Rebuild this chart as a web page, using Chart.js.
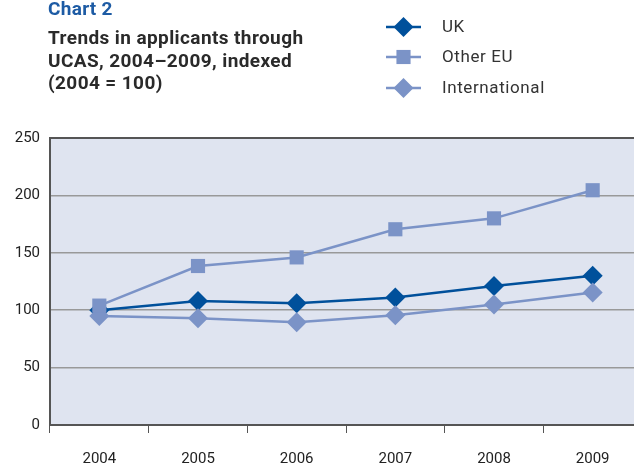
<!DOCTYPE html>
<html>
<head>
<meta charset="utf-8">
<script src="https://cdn.jsdelivr.net/npm/chart.js@4.4.0/dist/chart.umd.min.js"></script>
<style>
  html, body { margin: 0; padding: 0; background: #fff; overflow: hidden; }
  #wrap { position: relative; width: 634px; height: 466px; overflow: hidden; }
  #chart { position: absolute; left: 0; top: 0; }
  .kicker { position: absolute; left: 48px; top: -3px; font: 700 19px Roboto, sans-serif; color: #1d5ba4; letter-spacing: 0.3px; }
  .heading { position: absolute; left: 48px; top: 27px; font: 700 19px/22.5px Roboto, sans-serif; color: #2a2a2a; letter-spacing: 0.4px; }
</style>
</head>
<body>
<div id="wrap">
  <canvas id="chart" width="660" height="466"></canvas>
  <div class="kicker">Chart 2</div>
  <div class="heading">Trends in applicants through<br>UCAS, 2004–2009, indexed<br>(2004 = 100)</div>
</div>

<script>
// ---- data ----
const years = ["2004", "2005", "2006", "2007", "2008", "2009"];
const ukValues = [100, 108, 106, 111, 121, 130];
const otherEuValues = [104, 138.5, 146, 170.5, 180, 204.5];
const internationalValues = [95, 93, 89.5, 95.5, 105, 115.5];
const yTicks = [0, 50, 100, 150, 200, 250];

const darkBlue = "#00509b";
const lightBlue = "#7b93c7";

// plot background, plus the dark line along the top of the plot
const plotFrame = {
  id: "plotFrame",
  beforeDraw(chart) {
    const { ctx, chartArea: a } = chart;
    ctx.save();
    ctx.fillStyle = "#dfe4f0";
    ctx.fillRect(a.left, a.top, a.right - a.left, a.bottom - a.top);
    ctx.restore();
  },
  beforeDatasetsDraw(chart) {
    const { ctx, chartArea: a } = chart;
    ctx.save();
    ctx.strokeStyle = "#555";
    ctx.lineWidth = 2;
    ctx.beginPath();
    ctx.moveTo(a.left, a.top);
    ctx.lineTo(a.right, a.top);
    ctx.stroke();
    ctx.restore();
  }
};

// legend drawn top right with line + marker
const sideLegend = {
  id: "sideLegend",
  afterDraw(chart) {
    const ctx = chart.ctx;
    const rows = [27, 57, 88];
    ctx.save();
    chart.data.datasets.forEach((ds, i) => {
      const y = rows[i];
      ctx.strokeStyle = ds.borderColor;
      ctx.lineWidth = ds.borderWidth;
      ctx.beginPath();
      ctx.moveTo(386, y);
      ctx.lineTo(421, y);
      ctx.stroke();
      ctx.fillStyle = ds.pointBackgroundColor;
      ctx.strokeStyle = ds.pointBackgroundColor;
      ctx.lineWidth = 0;
      Chart.helpers.drawPoint(ctx, { pointStyle: ds.pointStyle, radius: ds.pointRadius, rotation: 0, borderWidth: 0 }, 403.5, y);
      ctx.fillStyle = "#333";
      ctx.font = "17px Roboto, sans-serif";
      ctx.letterSpacing = "0.6px";
      ctx.textBaseline = "middle";
      ctx.fillText(ds.label, 442, y + 1);
    });
    ctx.restore();
  }
};

const ctx = document.getElementById("chart");

new Chart(ctx, {
  type: "line",
  data: {
    labels: years,
    datasets: [
      {
        label: "UK",
        data: ukValues,
        borderColor: darkBlue,
        backgroundColor: darkBlue,
        pointBackgroundColor: darkBlue,
        borderWidth: 2.5,
        pointStyle: "rectRot",
        pointRadius: 10,
        pointBorderWidth: 0,
        order: 2
      },
      {
        label: "Other EU",
        data: otherEuValues,
        borderColor: lightBlue,
        backgroundColor: lightBlue,
        pointBackgroundColor: lightBlue,
        borderWidth: 2.5,
        pointStyle: "rect",
        pointRadius: 10,
        pointBorderWidth: 0,
        order: 0
      },
      {
        label: "International",
        data: internationalValues,
        borderColor: lightBlue,
        backgroundColor: lightBlue,
        pointBackgroundColor: lightBlue,
        borderWidth: 2.5,
        pointStyle: "rectRot",
        pointRadius: 10,
        pointBorderWidth: 0,
        order: 1
      }
    ]
  },
  options: {
    responsive: false,
    animation: false,
    layout: { padding: { top: 138, right: 18, left: 0, bottom: 0 } },
    plugins: {
      legend: { display: false },
      title: { display: false },
      tooltip: { enabled: false }
    },
    scales: {
      x: {
        offset: true,
        grid: {
          offset: true,
          drawOnChartArea: false,
          drawTicks: true,
          tickLength: 8,
          color: "#555"
        },
        border: { color: "#555", width: 2 },
        ticks: { color: "#222", font: { family: "Roboto", size: 15 }, padding: 17 },
        afterFit(scale) { scale.height = 41; }
      },
      y: {
        min: 0,
        max: 250,
        afterBuildTicks(scale) { scale.ticks = yTicks.map(v => ({ value: v })); },
        grid: { color: "#999", lineWidth: 1.5, drawTicks: false },
        border: { color: "#555", width: 2 },
        ticks: { color: "#222", font: { family: "Roboto", size: 15 }, padding: 10 },
        afterFit(scale) { scale.width = 50; }
      }
    }
  },
  plugins: [plotFrame, sideLegend]
});
</script>
</body>
</html>
